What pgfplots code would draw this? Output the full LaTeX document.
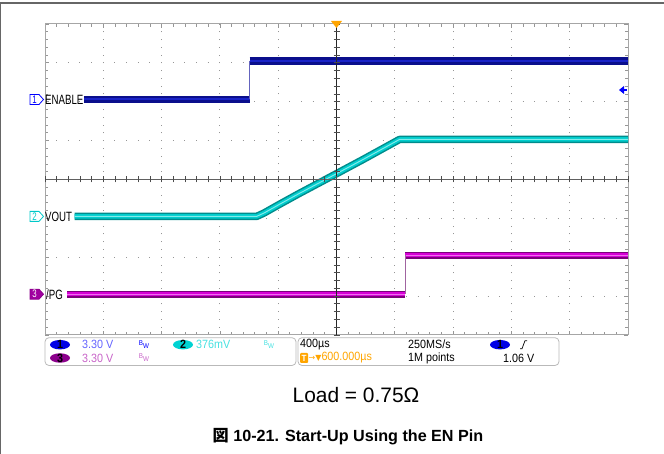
\documentclass[border=0pt]{standalone}
\usepackage{pgfplots}
\pgfplotsset{compat=1.18}
\usepackage{fontspec}
\setmainfont{Liberation Sans}
\newfontfamily\scopefont[FakeStretch=0.72]{Liberation Sans}
\newfontfamily\panelfont[FakeStretch=0.9]{Liberation Sans}
\newfontfamily\symfont{DejaVu Sans}
\newfontfamily\cjk{Noto Sans CJK JP}
\definecolor{enOut}{RGB}{10,15,140}
\definecolor{enIn}{RGB}{25,35,200}
\definecolor{enStep}{RGB}{100,100,190}
\definecolor{voOut}{RGB}{0,140,140}
\definecolor{voIn}{RGB}{0,205,205}
\definecolor{voC}{RGB}{130,235,235}
\definecolor{pgOut}{RGB}{125,0,125}
\definecolor{pgIn}{RGB}{215,0,215}
\definecolor{pgC}{RGB}{240,110,240}
\definecolor{pgStep}{RGB}{160,100,160}
\definecolor{gridc}{RGB}{150,150,150}
\definecolor{orangeT}{RGB}{255,165,0}
\definecolor{ch1txt}{RGB}{100,100,255}
\definecolor{ch2txt}{RGB}{70,225,225}
\definecolor{ch3txt}{RGB}{200,100,200}
\definecolor{ovBlue}{RGB}{0,0,230}
\definecolor{ovPurple}{RGB}{140,0,140}
\definecolor{ovCyan}{RGB}{0,210,210}
\definecolor{mk2}{RGB}{0,200,200}
\definecolor{mk3}{RGB}{160,0,160}
\begin{document}
\begin{tikzpicture}[x=1bp,y=1bp]
\path[use as bounding box] (0,0) rectangle (664,454);
% outer frame
\draw[gray!80!black, line width=1.2bp] (0,451) -- (664,451);
\draw[gray!80!black, line width=1.2bp] (0.6,0) -- (0.6,451);
\begin{axis}[
  at={(45bp,119bp)}, anchor=south west,
  scale only axis, width=583bp, height=311bp,
  xmin=-5, xmax=5, ymin=-4, ymax=4,
  xtick={-5,...,5}, ytick={-4,...,4},
  minor x tick num=4, minor y tick num=4,
  xticklabels={}, yticklabels={},
  tick align=inside,
  major tick length=4bp, minor tick length=3bp,
  tick style={gridc, line width=0.8bp},
  axis line style={gray!70, line width=1bp},
  grid=major,
  x grid style={gridc, line width=1bp, dash pattern=on 1bp off 6.775bp, dash phase=0.5bp},
  y grid style={gridc, line width=1bp, dash pattern=on 1bp off 10.66bp, dash phase=0.5bp},
]
% ENABLE
\addplot[enOut, line width=7.5bp] coordinates {(-4.33,2.06) (-1.49,2.06)};
\addplot[enOut, line width=7.5bp] coordinates {(-1.49,3.05) (5,3.05)};
\addplot[enIn, line width=2bp] coordinates {(-4.33,2.06) (-1.49,2.06)};
\addplot[enIn, line width=2bp] coordinates {(-1.49,3.05) (5,3.05)};
\addplot[enStep, line width=1bp] coordinates {(-1.49,2.06) (-1.49,3.05)};
% VOUT
\addplot[voOut, line width=7.5bp, line join=round] coordinates {(-4.49,-0.95) (-1.37,-0.95) (-1.24,-0.86) (-0.98,-0.64) (-0.64,-0.36) (0,0.15) (0.45,0.51) (1.08,1.03) (5,1.03)};
\addplot[voIn, line width=4.5bp, line join=round] coordinates {(-4.49,-0.95) (-1.37,-0.95) (-1.24,-0.86) (-0.98,-0.64) (-0.64,-0.36) (0,0.15) (0.45,0.51) (1.08,1.03) (5,1.03)};
\addplot[voC, line width=1bp, line join=round] coordinates {(-4.49,-0.95) (-1.37,-0.95) (-1.24,-0.86) (-0.98,-0.64) (-0.64,-0.36) (0,0.15) (0.45,0.51) (1.08,1.03) (5,1.03)};
% PG
\addplot[pgOut, line width=7bp] coordinates {(-4.62,-2.95) (1.18,-2.95)};
\addplot[pgOut, line width=7bp] coordinates {(1.18,-1.955) (5,-1.955)};
\addplot[pgIn, line width=4bp] coordinates {(-4.62,-2.95) (1.18,-2.95)};
\addplot[pgIn, line width=4bp] coordinates {(1.18,-1.955) (5,-1.955)};
\addplot[pgC, line width=1bp] coordinates {(-4.62,-2.95) (1.18,-2.95)};
\addplot[pgC, line width=1bp] coordinates {(1.18,-1.955) (5,-1.955)};
\addplot[pgStep, line width=1bp] coordinates {(1.18,-2.95) (1.18,-1.955)};
\end{axis}
% center crosshair
\draw[black!85, line width=1bp] (336.5,119) -- (336.5,430);
\draw[gray!75!black, line width=1bp] (45,274.5) -- (628,274.5);
\foreach \i in {-25,...,25} {
  \draw[gray!60!black, line width=0.8bp] ({336.5+\i*11.66},271.5) -- ++(0,6);
}
\foreach \i in {-20,...,20} {
  \draw[gray!60!black, line width=0.8bp] (333.5,{274.5+\i*7.775}) -- ++(6,0);
}
% trigger marker top
\fill[orangeT] (331,433) -- (342,433) -- (336.5,426) -- cycle;
% trigger level arrow right
\fill[blue] (619,364) -- (624,368) -- (624,360) -- cycle;
\draw[blue, line width=1.5bp] (623,364) -- (627,364);
% channel markers
\def\scopelbl{\scopefont\fontsize{13.5}{13.5}\selectfont}
\def\mkf{\scopefont\fontsize{11}{11}\selectfont}
\filldraw[draw=blue, fill=white, line width=0.8bp] (30,349.5) -- (39,349.5) -- (43.5,354.5) -- (39,359.5) -- (30,359.5) -- cycle;
\node[text=blue, font=\mkf, inner sep=0] at (34.5,354.5) {1};
\node[anchor=west, inner sep=0, font=\scopelbl] at (45,354.5) {ENABLE};
\filldraw[draw=mk2, fill=white, line width=0.8bp] (30,232.6) -- (39,232.6) -- (43.5,237.6) -- (39,242.6) -- (30,242.6) -- cycle;
\node[text=mk2, font=\mkf, inner sep=0] at (34.5,237.6) {2};
\node[anchor=west, inner sep=0, font=\scopelbl] at (45,237.6) {VOUT};
\filldraw[draw=ovPurple, fill=mk3, line width=0.8bp] (30,154.8) -- (39,154.8) -- (43.5,159.8) -- (39,164.8) -- (30,164.8) -- cycle;
\node[text=white, font=\mkf, inner sep=0] at (34.5,159.8) {3};
\node[anchor=west, inner sep=0, font=\scopelbl] at (46,159.8) {/PG};
% bottom info panels
\draw[gray!55, line width=0.8bp, rounded corners=4bp] (45,88.5) rectangle (296,116.3);
\draw[gray!55, line width=0.8bp, rounded corners=4bp] (298,88.5) rectangle (559,116.3);
\def\pf{\panelfont\fontsize{12}{12}\selectfont}
\def\bw{\panelfont\fontsize{7}{7}\selectfont}
\def\ra{109.3}
\def\rb{96}
\fill[ovBlue] (60,\ra) ellipse (10 and 4.7);
\node[font=\pf\bfseries, inner sep=0] at (60,\ra) {1};
\fill[ovPurple] (60,\rb) ellipse (10 and 4.7);
\node[font=\pf\bfseries, inner sep=0] at (60,\rb) {3};
\fill[ovCyan] (183,\ra) ellipse (10 and 4.7);
\node[font=\pf\bfseries, inner sep=0] at (183,\ra) {2};
\node[anchor=west, inner sep=0, font=\pf, text=ch1txt] at (82,\ra) {3.30 V};
\node[anchor=west, inner sep=0, font=\pf, text=ch3txt] at (82,\rb) {3.30 V};
\node[anchor=west, inner sep=0, font=\pf, text=ch2txt] at (196,\ra) {376mV};
\node[inner sep=0, font=\bw, text=blue] at (144,\ra) {\raisebox{1.5bp}{B}\raisebox{-1.5bp}{W}};
\node[inner sep=0, font=\bw, text=ch2txt] at (269,\ra) {\raisebox{1.5bp}{B}\raisebox{-1.5bp}{W}};
\node[inner sep=0, font=\bw, text=ch3txt] at (144,\rb) {\raisebox{1.5bp}{B}\raisebox{-1.5bp}{W}};
\node[anchor=west, inner sep=0, font=\pf] at (300,\ra) {400µs};
\node[anchor=west, inner sep=0, font=\pf] at (408,\ra) {250MS/s};
\fill[ovBlue] (500,\ra) ellipse (10 and 4.7);
\node[font=\pf\bfseries, inner sep=0] at (500,\ra) {1};
\draw[black, line width=0.7bp] (520,105.3) -- (522,105.3) -- (525,113.3) -- (527,113.3);
\fill[orangeT, rounded corners=1bp] (300,91) rectangle (308,101);
\node[text=white, font=\panelfont\fontsize{9}{9}\selectfont\bfseries, inner sep=0] at (304,96) {T};
\node[anchor=west, inner sep=0, font=\pf, text=orangeT] at (308.5,\rb) {{\symfont\fontsize{8}{8}\selectfont →▼}600.000µs};
\node[anchor=west, inner sep=0, font=\pf] at (408,\rb) {1M points};
\node[anchor=west, inner sep=0, font=\pf] at (503,\rb) {1.06 V};
% load text and caption
\node[font=\fontsize{21}{21}\selectfont, inner sep=0] at (356,59) {Load = 0.75Ω};
\node[font=\fontsize{16.2}{16.2}\selectfont\bfseries, inner sep=0] at (348,17) {{\cjk\bfseries 図} 10-21. Start-Up Using the EN Pin};
\end{tikzpicture}
\end{document}
